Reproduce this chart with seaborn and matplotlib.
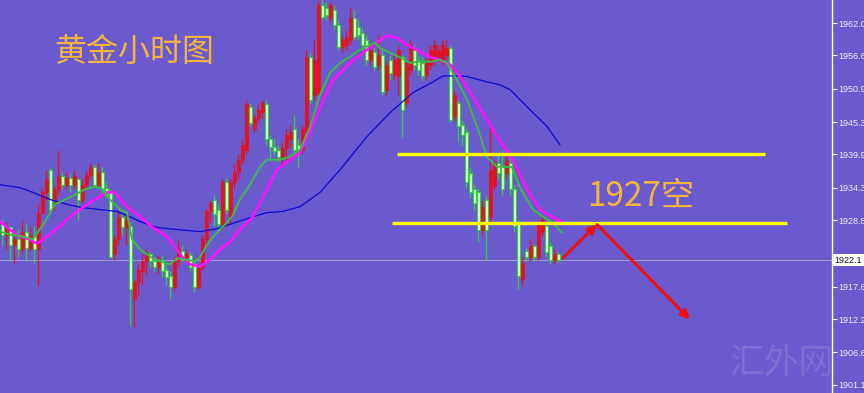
import numpy as np
import pandas as pd
import matplotlib
matplotlib.use("Agg")
import matplotlib.pyplot as plt
import matplotlib.transforms as mtransforms
import seaborn as sns

# ---------------- data (hourly gold candles) ----------------
opens = [1928.1,1926.4,1927.6,1924.7,1925.6,1923.9,1926.9,1924.2,1926.2,1923.9,
         1930.1,1933.5,1937.3,1932.3,1934.0,1936.2,1934.8,1936.0,1934.8,1935.7,
         1932.3,1934.8,1936.5,1937.7,1934.8,1937.0,1934.3,1933.5,1923.1,1925.6,
         1929.3,1927.6,1927.8,1915.5,1918.4,1920.2,1921.9,1923.1,1921.9,1920.9,
         1922.2,1920.5,1919.5,1917.5,1921.9,1923.6,1922.6,1922.9,1921.4,1917.5,
         1920.9,1925.6,1930.3,1932.3,1930.6,1928.1,1935.2,1929.3,1935.3,1937.0,
         1939.0,1940.7,1947.8,1944.1,1946.1,1947.1,1948.3,1942.4,1941.2,1940.7,
         1939.5,1941.0,1942.4,1944.1,1941.5,1940.7,1943.6,1956.3,1949.9,1950.3,
         1965.1,1964.6,1962.9,1964.2,1961.7,1958.0,1958.3,1959.2,1962.9,1961.4,
         1960.4,1959.2,1955.8,1957.2,1955.0,1956.7,1950.8,1955.8,1953.3,1953.0,
         1956.3,1948.6,1954.1,1957.5,1955.8,1955.3,1953.3,1955.0,1955.8,1956.2,
         1955.8,1956.7,1957.8,1946.2,1948.6,1944.9,1943.6,1936.8,1934.0,1933.5,
         1927.2,1932.3,1929.4,1934.5,1938.5,1937.8,1936.8,1938.5,1934.0,1928.1,
         1918.9,1923.6,1922.7,1924.4,1922.7,1926.8,1927.8,1924.4,1922.2,1923.1]
closes = [1926.4,1927.6,1924.7,1925.6,1923.9,1926.9,1924.2,1926.2,1923.9,1930.1,
          1933.5,1935.7,1930.6,1934.0,1936.2,1934.8,1936.0,1934.8,1936.3,1932.3,
          1934.8,1936.5,1937.7,1934.8,1937.0,1934.0,1933.1,1922.7,1925.6,1929.3,
          1927.6,1928.9,1917.2,1918.4,1920.5,1921.9,1923.1,1921.9,1920.9,1922.2,
          1920.2,1919.2,1917.5,1921.9,1923.9,1922.6,1923.1,1920.9,1917.5,1920.9,
          1925.6,1930.3,1931.8,1929.8,1928.1,1935.2,1930.6,1935.3,1937.0,1939.0,
          1941.5,1948.3,1945.2,1946.1,1947.4,1948.6,1942.4,1941.2,1940.4,1939.4,
          1941.0,1943.2,1943.7,1940.7,1940.4,1944.1,1956.3,1949.1,1955.8,1965.1,
          1963.0,1963.4,1965.1,1961.7,1958.0,1959.2,1959.7,1962.9,1959.7,1960.0,
          1958.3,1955.8,1957.5,1954.6,1956.7,1950.4,1955.0,1953.6,1955.8,1957.5,
          1947.4,1955.3,1958.3,1955.0,1954.1,1953.0,1955.3,1957.5,1958.3,1957.5,
          1958.3,1957.8,1945.7,1949.9,1944.6,1943.2,1935.2,1933.5,1931.8,1927.2,
          1931.1,1927.2,1937.3,1938.5,1936.8,1934.0,1939.0,1934.0,1927.8,1919.4,
          1921.7,1922.6,1924.4,1922.7,1928.4,1928.9,1923.4,1922.2,1923.1,1922.1]
highs = [1928.9,1928.6,1927.9,1926.2,1927.3,1928.9,1928.1,1927.6,1927.9,1931.5,
         1934.3,1937.3,1937.7,1934.8,1940.7,1937.0,1937.0,1936.7,1937.3,1936.0,
         1935.7,1937.3,1938.5,1938.2,1938.5,1937.7,1935.2,1934.0,1926.4,1930.3,
         1929.9,1929.8,1928.6,1918.9,1921.4,1923.1,1923.9,1923.6,1922.6,1922.9,
         1922.9,1921.4,1920.2,1922.6,1925.6,1924.6,1923.9,1923.4,1921.9,1921.4,
         1926.4,1930.9,1932.3,1933.1,1931.5,1935.7,1936.0,1936.0,1938.2,1939.9,
         1942.4,1949.1,1948.6,1946.6,1948.3,1949.1,1949.1,1943.2,1942.4,1941.5,
         1941.9,1944.1,1944.9,1946.6,1942.4,1944.9,1957.5,1957.0,1959.2,1965.9,
         1965.9,1965.6,1965.6,1965.1,1962.5,1960.0,1960.9,1964.7,1964.2,1962.5,
         1961.2,1960.0,1958.3,1957.8,1960.0,1957.5,1955.8,1956.7,1956.7,1958.3,
         1956.7,1955.8,1959.2,1958.3,1956.7,1956.2,1956.2,1958.3,1959.2,1958.3,
         1959.2,1959.2,1958.3,1950.8,1949.1,1945.7,1944.1,1937.7,1934.8,1934.0,
         1932.3,1933.1,1944.9,1939.0,1939.9,1940.7,1939.9,1939.4,1934.8,1928.9,
         1922.6,1924.2,1925.6,1924.9,1928.9,1929.8,1928.6,1925.2,1923.9,1923.4]
lows = [1924.7,1923.9,1921.9,1921.4,1922.6,1923.1,1921.9,1923.6,1921.7,1917.7,
        1929.8,1932.3,1929.8,1930.3,1933.1,1934.0,1934.0,1933.6,1934.0,1928.9,
        1931.8,1934.0,1935.7,1934.3,1934.3,1933.1,1932.6,1922.6,1922.2,1924.7,
        1926.4,1924.7,1911.0,1910.8,1916.3,1918.0,1919.7,1920.9,1920.2,1919.7,
        1919.2,1918.0,1915.5,1916.8,1921.2,1921.9,1921.9,1920.2,1916.7,1917.2,
        1920.5,1924.7,1928.6,1927.6,1926.9,1927.3,1929.8,1928.1,1934.0,1935.7,
        1938.2,1939.9,1944.6,1943.6,1945.4,1946.1,1941.5,1939.0,1939.9,1938.7,
        1938.2,1939.0,1941.0,1939.9,1937.7,1939.9,1942.7,1948.3,1949.1,1949.9,
        1962.5,1962.5,1962.2,1960.9,1957.5,1957.2,1957.5,1958.3,1959.2,1959.2,
        1957.5,1955.0,1955.0,1954.1,1954.1,1949.9,1949.9,1952.4,1952.4,1949.9,
        1942.9,1947.8,1953.3,1954.1,1953.3,1952.4,1952.4,1954.1,1955.0,1955.5,
        1955.0,1955.8,1945.4,1945.7,1941.9,1941.5,1934.3,1932.6,1930.6,1925.1,
        1926.4,1922.2,1928.6,1934.0,1935.7,1933.1,1936.0,1933.1,1926.9,1917.2,
        1918.0,1921.9,1921.9,1921.9,1922.2,1926.2,1922.6,1921.4,1921.4,1921.8]

# moving averages, read as (bar index, price) points
ma_fast_x = [-0.5,2,4.5,7.75,10.75,13.25,15.75,18.25,20.75,23.25,25.25,27,29.5,31.25,32.5,34.5,37,39.5,42,
             43.75,45.75,48.25,49.5,51.25,53.25,55.75,57.5,59.5,62,64.5,66.25,69.5,72,74.5,77,79.5,82,
             84.5,87,89.5,92,93.25,94.5,97,99.5,102,104.5,107,109.5,111.25,113.75,116.25,118.75,121.25,
             123.75,127.5,129.5,132.75,135.25,137.75,140]
ma_fast_y = [1926.9,1926.4,1926.2,1925.6,1928.6,1931.5,1932.3,1933.1,1934.0,1934.5,1934.0,1932.3,1930.6,1930.1,
             1925.6,1923.9,1922.7,1921.9,1921.4,1922.4,1922.2,1921.9,1922.6,1924.7,1926.4,1928.1,1929.4,1932.3,
             1934.8,1937.8,1939.0,1939.0,1939.5,1940.7,1944.5,1949.9,1953.6,1955.3,1956.3,1957.5,1958.3,1958.7,
             1957.8,1957.0,1956.2,1955.3,1955.5,1955.5,1955.8,1955.3,1952.4,1949.1,1944.6,1939.5,1937.8,1937.8,
             1934.3,1930.6,1929.4,1928.4,1926.7]
ma_mid_x = [-0.5,2,4.5,7,8.75,11.25,14.5,17,19.5,22,24.5,26.25,28.25,31.25,34.5,37.75,41.25,43.75,45,47,49.5,
            52,54.5,57,59.5,62.75,65.25,68.75,72,74.5,77,79.5,82.75,87,91.25,93.75,96.25,98.75,101.25,104.5,
            107,109.5,112,114.5,117.75,121.25,123.75,127.75,131.25,134.5,138.75,140]
ma_mid_y = [1928.6,1927.2,1926.1,1925.6,1924.9,1926.1,1927.8,1929.4,1930.6,1931.8,1932.8,1933.5,1933.5,1931.1,
            1929.4,1927.6,1926.1,1923.9,1922.7,1921.4,1921.0,1922.2,1923.9,1925.2,1927.2,1929.4,1932.8,1937.3,
            1939.0,1940.2,1943.6,1947.9,1952.4,1955.3,1957.5,1958.8,1959.9,1959.5,1958.3,1957.2,1956.3,1955.8,
            1955.0,1953.0,1949.6,1945.7,1942.9,1939.0,1934.0,1930.6,1928.9,1928.6]
ma_slow_x = [-0.5,4.5,7.75,12,16.25,19.5,24.5,28.75,32,34.5,38.75,44.5,49.5,53.75,57.75,62.75,66.25,70.25,74.5,
             77,79.5,84.5,91.25,97,102.75,107.75,110.25,113.75,116.25,121.25,124.5,127,129.5,132.75,136.25,139.5]
ma_slow_y = [1934.8,1934.3,1933.5,1932.3,1931.5,1931.0,1930.6,1930.3,1929.4,1928.6,1927.6,1927.2,1926.9,1927.4,
             1928.3,1929.4,1930.1,1930.3,1931.1,1932.3,1933.5,1937.3,1942.9,1946.9,1950.3,1952.1,1953.1,1953.1,
             1953.0,1952.1,1951.6,1950.8,1949.1,1946.9,1944.6,1941.5]

price_ticks = [1962.0, 1956.6, 1950.9, 1945.3, 1939.9, 1934.3, 1928.8, 1922.7, 1917.6, 1912.2, 1906.6, 1901.1]
current_price = 1922.1
level_upper = 1939.9
level_upper_span = [98.75, 190.75]
level_lower = 1928.3
level_lower_span = [97.5, 196.25]
arrow_x = [140.25, 148.75, 172.0]
arrow_y = [1922.5, 1928.1, 1912.1]
title_text = "黄金小时图"
signal_text = "1927空"
signal_pos = (159.75, 1932.9)
watermark = "汇外网"

# ---------------- style ----------------
bg = "#6a5acd"
sns.set_style("white")
plt.rcParams["font.family"] = ["Liberation Sans", "DejaVu Sans"]
cjk = ["Noto Sans CJK SC", "DejaVu Sans"]

fig = plt.figure(figsize=(8.64, 3.93), dpi=100)
fig.patch.set_facecolor(bg)
ax = fig.add_axes([0, 0, 832 / 864, 1])
ax.set_facecolor(bg)

o = np.array(opens); c = np.array(closes); h = np.array(highs); l = np.array(lows)
idx = np.arange(len(o))
up = c >= o
dn = ~up
red = "#e8101c"
green = "#2fd33a"

ax.axhline(current_price, color="#aaa8c8", lw=0.6, zorder=1)

# candles
ax.vlines(idx[up], l[up], h[up], color=red, lw=0.9, zorder=2)
ax.vlines(idx[dn], l[dn], h[dn], color=green, lw=0.9, zorder=2)
body_lo = np.minimum(o, c)
body_h = np.maximum(np.abs(c - o), 0.25)
ax.bar(idx[up], body_h[up], bottom=body_lo[up], width=0.75, color=red, edgecolor=red, lw=0.5, zorder=3)
ax.bar(idx[dn], body_h[dn], bottom=body_lo[dn], width=0.75, color="#d8ffd0", edgecolor=green, lw=0.8, zorder=3)

# moving averages
sns.lineplot(x=ma_slow_x, y=ma_slow_y, ax=ax, color="#0a0ad0", lw=0.9, estimator=None, sort=False, zorder=4)
sns.lineplot(x=ma_mid_x, y=ma_mid_y, ax=ax, color="#ff10ff", lw=1.9, estimator=None, sort=False, zorder=5)
sns.lineplot(x=ma_fast_x, y=ma_fast_y, ax=ax, color="#3dbb45", lw=1.4, estimator=None, sort=False, zorder=6)

# horizontal levels
ax.hlines(level_upper, level_upper_span[0], level_upper_span[1], color="#ffff00", lw=2.4, zorder=7)
ax.hlines(level_lower, level_lower_span[0], level_lower_span[1], color="#ffff00", lw=2.4, zorder=7)

# arrows
for k in range(2):
    ax.annotate("", xy=(arrow_x[k + 1], arrow_y[k + 1]), xytext=(arrow_x[k], arrow_y[k]),
                arrowprops=dict(arrowstyle="-|>", color="#f01010", lw=2.2, mutation_scale=13,
                                shrinkA=0, shrinkB=0), zorder=8)

# texts
gold = "#f3b53c"
ax.text(0.161, 0.868, title_text, transform=ax.transAxes, fontsize=23, color=gold,
        ha="center", va="center", family=cjk)
ax.text(signal_pos[0], signal_pos[1], signal_text, fontsize=24, color=gold,
        ha="center", va="center", family=cjk, zorder=9)
fig.text(782 / 864, 1 - 364 / 393, watermark, fontsize=25, color="white", alpha=0.12,
         ha="center", va="center", family=cjk)

# axes
ax.set_xlim(-0.5, 207.5)
ax.set_ylim(1899.75, 1965.87)
for s in ["left", "top", "bottom"]:
    ax.spines[s].set_visible(False)
ax.spines["right"].set_color("white")
ax.spines["right"].set_linewidth(1.0)
ax.set_xticks([])
ax.yaxis.tick_right()
ax.set_yticks(price_ticks)
ax.set_yticklabels([f"{v:.1f}" for v in price_ticks])
ax.tick_params(axis="y", which="both", direction="out", length=3.5, width=0.8, color="white",
               labelcolor="#f2f0ff", labelsize=6.5, pad=1.2)
ax.set_xlabel("")
ax.set_ylabel("")

trans = mtransforms.blended_transform_factory(ax.transAxes, ax.transData)
ax.text(1.003, current_price, f"{current_price:.1f}", transform=trans, fontsize=6.5, color="#111111",
        ha="left", va="center", clip_on=False, zorder=10,
        bbox=dict(boxstyle="square,pad=0.2", fc="white", ec="none"))

fig.savefig("out.png", dpi=100, facecolor=bg)
